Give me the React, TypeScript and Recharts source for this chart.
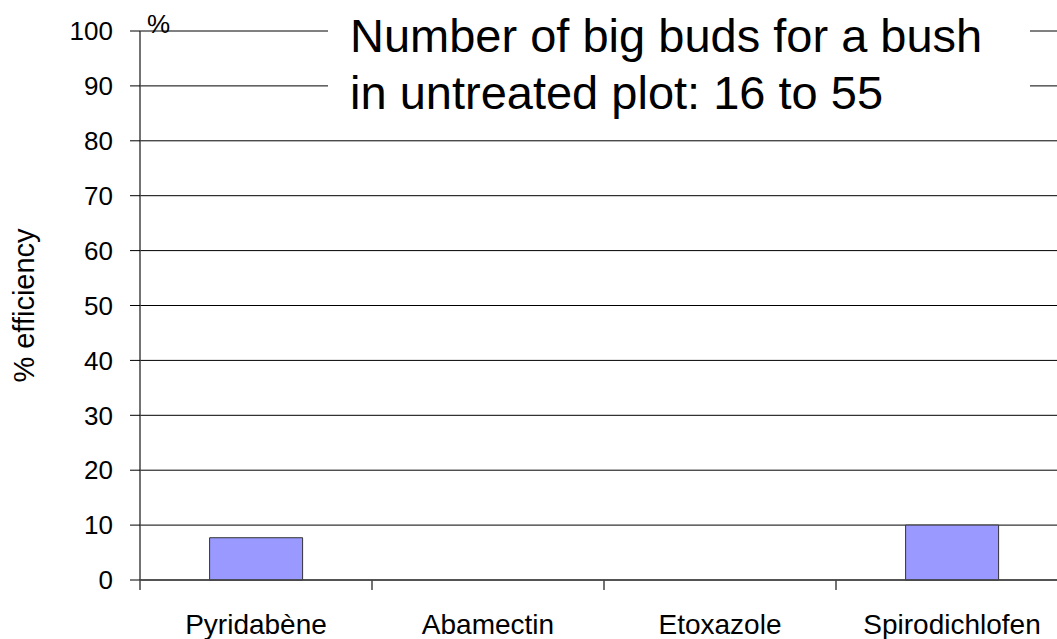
import { BarChart, Bar, XAxis, YAxis, CartesianGrid } from "recharts";

const products = ["Pyridabène", "Abamectin", "Etoxazole", "Spirodichlofen"];
const efficiency = [7.7, 0, 0, 10];
const yTicks = [0, 10, 20, 30, 40, 50, 60, 70, 80, 90, 100];
const titleLines = ["Number of big buds for a bush", "in untreated plot: 16 to 55"];

const chartData = products.map((name, i) => ({ name, value: efficiency[i] }));

const FONT = "'Liberation Sans', Arial, sans-serif";
const CHART_W = 1075;
const CHART_H = 639;
const MARGIN = { top: 31, right: 7, bottom: 0, left: 0 };
const Y_AXIS_W = 140;
const BAND = (CHART_W - MARGIN.left - MARGIN.right - Y_AXIS_W) / products.length;

// category label plus a tick mark at the left edge of its band
function CategoryTick(props: any) {
  const { x, y, payload } = props;
  const left = x - BAND / 2;
  return (
    <g>
      <line x1={left} x2={left} y1={580} y2={590} stroke="#444" strokeWidth={1.5} />
      <text x={x} y={y + 46} textAnchor="middle" fontSize={28} fill="#000" fontFamily={FONT}>
        {payload.value}
      </text>
    </g>
  );
}

export default function App() {
  return (
    <div
      style={{
        position: "fixed",
        left: 0,
        top: 0,
        width: 1057,
        height: 639,
        overflow: "hidden",
        background: "#fff",
        fontFamily: FONT,
      }}
    >
      <BarChart width={CHART_W} height={CHART_H} data={chartData} margin={MARGIN} barCategoryGap="30%">
        <CartesianGrid vertical={false} stroke="#000" strokeWidth={1} />
        <XAxis
          dataKey="name"
          height={59}
          axisLine={{ stroke: "#444", strokeWidth: 1.5 }}
          tickLine={false}
          tick={<CategoryTick />}
          interval={0}
        />
        <YAxis
          width={Y_AXIS_W}
          domain={[0, 100]}
          ticks={yTicks}
          interval={0}
          tickSize={10}
          tickMargin={17}
          axisLine={{ stroke: "#444", strokeWidth: 1.5 }}
          tickLine={{ stroke: "#000" }}
          tick={{ fontSize: 26, fill: "#000", fontFamily: FONT }}
          label={{
            value: "% efficiency",
            angle: -90,
            position: "insideLeft",
            offset: 24,
            style: { fontSize: 29, fill: "#000", fontFamily: FONT, textAnchor: "middle" },
          }}
        />
        <Bar dataKey="value" fill="#9999ff" stroke="#333" strokeWidth={1} isAnimationActive={false} />
      </BarChart>
      <div style={{ position: "absolute", left: 147, top: 9, fontSize: 26, lineHeight: "30px", color: "#000" }}>%</div>
      <div
        style={{
          position: "absolute",
          left: 328,
          top: 0,
          width: 702,
          height: 126,
          background: "#fff",
          paddingLeft: 22,
          boxSizing: "border-box",
          paddingTop: 7,
          fontSize: 47,
          lineHeight: "57px",
          color: "#000",
          whiteSpace: "nowrap",
        }}
      >
        {titleLines.map((line) => (
          <div key={line}>{line}</div>
        ))}
      </div>
    </div>
  );
}
